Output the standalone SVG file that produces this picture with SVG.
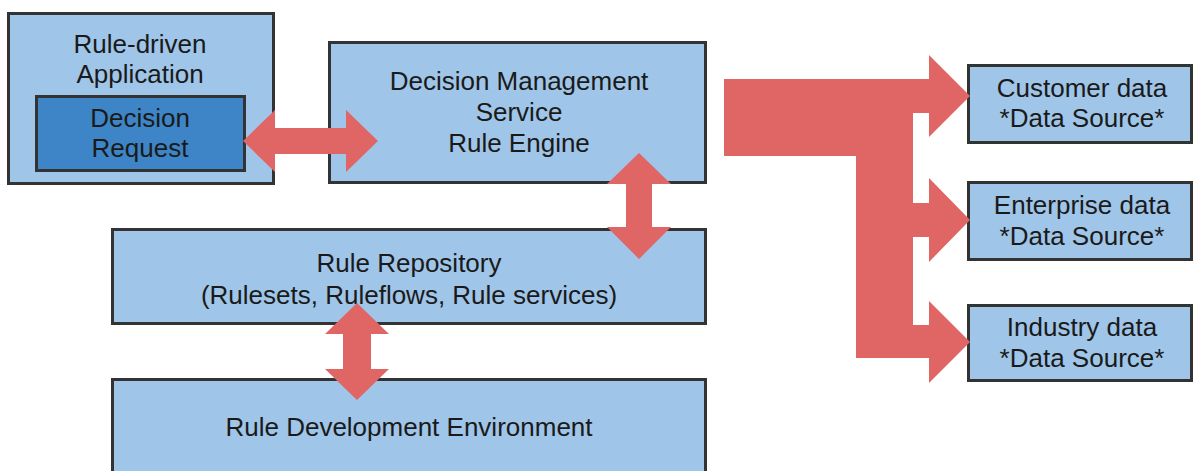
<svg xmlns="http://www.w3.org/2000/svg" width="1193" height="471" viewBox="0 0 1193 471">
<style>
.box{fill:#9fc5e8;stroke:#333333;stroke-width:3}
.inner{fill:#3d85c6;stroke:#333333;stroke-width:3}
.t{font-family:"Liberation Sans",Arial,sans-serif;font-size:26px;fill:#1a1a1a;text-anchor:middle}
.arrow{fill:#e06666}
</style>
<rect width="1193" height="471" fill="#ffffff"/>
<g id="rule-driven-app">
<rect class="box" x="8.5" y="13.5" width="265" height="170"/>
<text class="t" x="140" y="53">Rule-driven</text>
<text class="t" x="140" y="83">Application</text>
</g>
<g id="decision-request">
<rect class="inner" x="36.5" y="96.5" width="208" height="74"/>
<text class="t" x="140" y="127">Decision</text>
<text class="t" x="140" y="157">Request</text>
</g>
<g id="decision-management">
<rect class="box" x="329.5" y="42.5" width="376" height="140"/>
<text class="t" x="519" y="90">Decision Management</text>
<text class="t" x="519" y="121">Service</text>
<text class="t" x="519" y="152">Rule Engine</text>
</g>
<g id="rule-repository">
<rect class="box" x="112.5" y="229.5" width="593" height="94"/>
<text class="t" x="409" y="272">Rule Repository</text>
<text class="t" x="409" y="304">(Rulesets, Ruleflows, Rule services)</text>
</g>
<g id="rule-development">
<rect class="box" x="112.5" y="379.5" width="593" height="100"/>
<text class="t" x="409" y="436">Rule Development Environment</text>
</g>
<g id="customer-data">
<rect class="box" x="968.5" y="65.5" width="223" height="77"/>
<text class="t" x="1082" y="97">Customer data</text>
<text class="t" x="1082" y="127">*Data Source*</text>
</g>
<g id="enterprise-data">
<rect class="box" x="968.5" y="182.5" width="223" height="77"/>
<text class="t" x="1082" y="214">Enterprise data</text>
<text class="t" x="1082" y="245">*Data Source*</text>
</g>
<g id="industry-data">
<rect class="box" x="968.5" y="305.5" width="223" height="75"/>
<text class="t" x="1082" y="336">Industry data</text>
<text class="t" x="1082" y="367">*Data Source*</text>
</g>
<g id="connectors">
<polygon class="arrow" points="243,141 275,110 275,128 346,128 346,110 378,141 346,172 346,154 275,154 275,172"/>
<polygon class="arrow" points="639,153 671,184 652,184 652,227 671,227 639,259 607,227 626,227 626,184 607,184"/>
<polygon class="arrow" points="357,303 389,334 371,334 371,369 389,369 357,400 325,369 343,369 343,334 325,334"/>
<polygon class="arrow" points="724,79 929,79 929,55 970,96 929,137 929,113 913,113 913,203 929,203 929,178 970,220 929,262 929,237 913,237 913,325 929,325 929,301 970,342 929,383 929,358 856,358 856,156 724,156"/>
</g>
</svg>
